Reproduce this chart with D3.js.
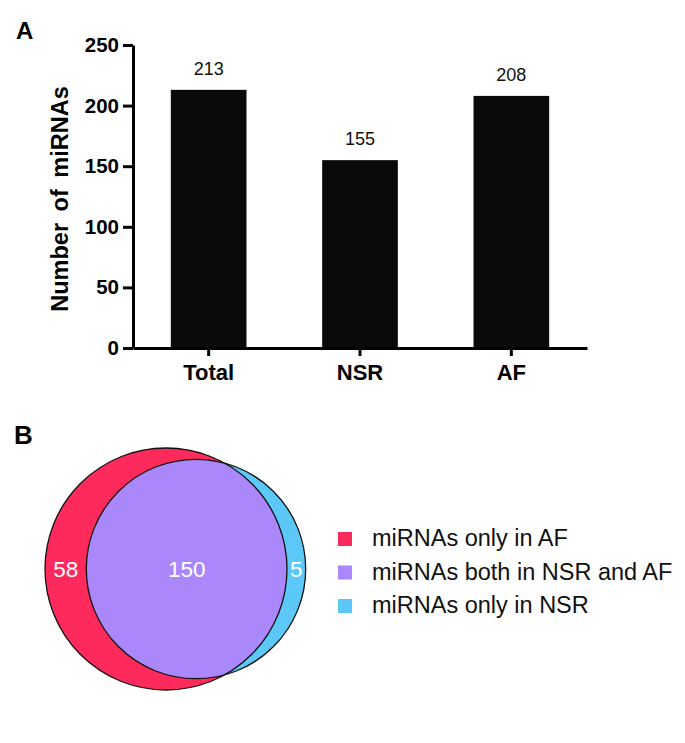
<!DOCTYPE html>
<html>
<head>
<meta charset="utf-8">
<script src="https://cdn.jsdelivr.net/npm/d3@7"></script>
<style>
  body { margin: 0; background: #fff; }
  text { font-family: Arial, "Liberation Sans", Helvetica, sans-serif; }
</style>
</head>
<body>
<svg id="fig" width="685" height="743"></svg>
<script>
// bar chart data (panel A)
let groups = ["Total", "NSR", "AF"];
let counts = [213, 155, 208];
let yTicks = [0, 50, 100, 150, 200, 250];

// venn data (panel B)
let setNames = ["AF", "NSR"];
let setSizes = [208, 155];
let regionLabels = ["miRNAs only in AF", "miRNAs both in NSR and AF", "miRNAs only in NSR"];
let regionCounts = [58, 150, 5];
let regionColors = ["#fe2a5c", "#aa88fc", "#5bc8f8"];

let svg = d3.select("#fig");

// ---------- Panel A ----------
let y = d3.scaleLinear().domain([0, 250]).range([348, 45]);
let x = d3.scaleBand().domain(groups).range([133, 587])
    .paddingInner(0.5).paddingOuter(0.25);

svg.append("text")
    .attr("x", 16).attr("y", 39)
    .style("font-size", "24px").style("font-weight", "bold")
    .text("A");

svg.append("g")
    .selectAll("rect")
    .data(counts)
    .enter()
    .append("rect")
    .attr("x", (d, i) => x(groups[i]))
    .attr("y", d => y(d))
    .attr("width", x.bandwidth())
    .attr("height", d => y(0) - y(d))
    .attr("fill", "#0a0a0a");

// value labels above bars
svg.append("g")
    .selectAll("text")
    .data(counts)
    .enter()
    .append("text")
    .attr("x", (d, i) => x(groups[i]) + x.bandwidth() / 2)
    .attr("y", d => y(d) - 15)
    .attr("text-anchor", "middle")
    .style("font-size", "18px")
    .attr("fill", "#111")
    .text(d => d);

let yAxis = svg.append("g")
    .attr("transform", "translate(133,0)")
    .call(d3.axisLeft(y).tickValues(yTicks).tickSize(10).tickSizeOuter(0).tickPadding(4));

let xAxis = svg.append("g")
    .attr("transform", "translate(0,348)")
    .call(d3.axisBottom(x).tickSize(8).tickSizeOuter(0).tickPadding(8));

// heavy GraphPad style axes
[yAxis, xAxis].forEach(function (ax) {
    ax.select(".domain").attr("stroke", "#000").attr("stroke-width", 3);
    ax.selectAll(".tick line").attr("stroke", "#000").attr("stroke-width", 3);
    ax.selectAll(".tick text")
        .attr("fill", "#000")
        .style("font-weight", "bold")
        .style("font-family", "Arial, 'Liberation Sans', Helvetica, sans-serif");
});
yAxis.selectAll(".tick text").style("font-size", "20.5px");
xAxis.selectAll(".tick text").style("font-size", "22px");

svg.append("text")
    .attr("transform", "translate(68,199) rotate(-90)")
    .attr("text-anchor", "middle")
    .style("font-size", "23.5px")
    .style("font-weight", "bold")
    .style("word-spacing", "5px")
    .text("Number of miRNAs");

// ---------- Panel B ----------
svg.append("text")
    .attr("x", 14).attr("y", 444)
    .style("font-size", "26px").style("font-weight", "bold")
    .text("B");

// circle radius from set size
let r = d3.scalePow().exponent(1 / 3).domain([0, 208]).range([0, 121]);
let cy = 569;
let afCx = 166;
let gap = 30; // distance between the two centres
let circles = [
    { name: setNames[0], cx: afCx, r: r(setSizes[0]), color: regionColors[0] },
    { name: setNames[1], cx: afCx + gap, r: r(setSizes[1]), color: regionColors[2] }
];

let defs = svg.append("defs");
defs.append("clipPath").attr("id", "clip-af")
    .append("circle")
    .attr("cx", circles[0].cx).attr("cy", cy).attr("r", circles[0].r);

let venn = svg.append("g");
venn.selectAll("circle.fill")
    .data(circles)
    .enter()
    .append("circle")
    .attr("class", "fill")
    .attr("cx", d => d.cx).attr("cy", cy).attr("r", d => d.r)
    .attr("fill", d => d.color);

// overlap
venn.append("circle")
    .attr("clip-path", "url(#clip-af)")
    .attr("cx", circles[1].cx).attr("cy", cy).attr("r", circles[1].r)
    .attr("fill", regionColors[1]);

venn.selectAll("circle.edge")
    .data(circles)
    .enter()
    .append("circle")
    .attr("class", "edge")
    .attr("cx", d => d.cx).attr("cy", cy).attr("r", d => d.r)
    .attr("fill", "none")
    .attr("stroke", "#111")
    .attr("stroke-width", 1.3);

// region count labels, centred in each region along the middle line
let afL = circles[0].cx - circles[0].r, afR = circles[0].cx + circles[0].r;
let nsL = circles[1].cx - circles[1].r, nsR = circles[1].cx + circles[1].r;
let regionX = [(afL + nsL) / 2, (nsL + afR) / 2, (afR + nsR) / 2];

venn.selectAll("text")
    .data(regionCounts)
    .enter()
    .append("text")
    .attr("x", (d, i) => regionX[i])
    .attr("y", cy + 8)
    .attr("text-anchor", "middle")
    .attr("fill", "#fff")
    .style("font-size", "22.5px")
    .text(d => d);

// legend
let legend = svg.append("g").attr("transform", "translate(338,532)");
let row = legend.selectAll("g")
    .data(regionLabels)
    .enter()
    .append("g")
    .attr("transform", (d, i) => "translate(0," + (i * 33.5) + ")");
row.append("rect")
    .attr("width", 14).attr("height", 14)
    .attr("fill", (d, i) => regionColors[i]);
row.append("text")
    .attr("x", 34).attr("y", 14)
    .style("font-size", "23.5px")
    .attr("fill", "#111")
    .text(d => d);
</script>
</body>
</html>
